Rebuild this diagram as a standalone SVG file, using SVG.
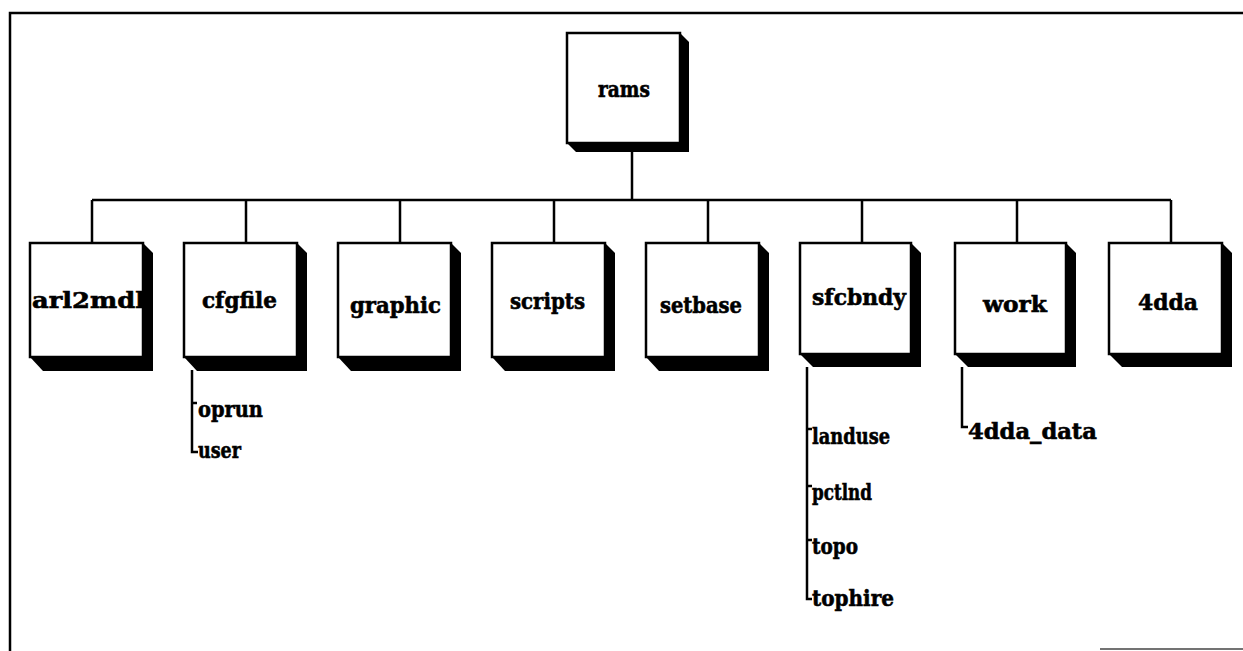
<svg xmlns="http://www.w3.org/2000/svg" width="1243" height="651" viewBox="0 0 1243 651">
<style>
.face{fill:#fff;stroke:#000;stroke-width:2.5}
.shd{fill:#000}
.lbl{font-family:"DejaVu Serif","Liberation Serif",serif;font-weight:bold;font-size:23px;fill:#000;stroke:#000;stroke-width:0.6}
.ln{stroke:#000;stroke-width:2.5;fill:none}
</style>
<rect width="1243" height="651" fill="#fff"/>
<g id="frame">
<path d="M10,651 V13 H1243" class="ln" stroke-width="3"/>
<line x1="1100" y1="649" x2="1243" y2="649" stroke="#444" stroke-width="1.5"/>
</g>
<g id="connectors">
<path class="ln" d="M632,152 V200 M92,200 H1171 M92,200 V243 M246,200 V243 M400,200 V243 M554,200 V243 M708,200 V243 M862,200 V243 M1017,200 V243 M1171,200 V243"/>
<path class="ln" d="M192,370 V452 H198 M192,403 H197"/>
<path class="ln" d="M807,367 V599 H812 M807,429 H812 M807,486 H812 M807,540 H812"/>
<path class="ln" d="M962,367 V427 H968"/>
</g>
<g id="rams">
<polygon class="shd" points="680,33 689,42 689,152 576,152 567,143"/>
<rect class="face" x="567" y="33" width="113" height="110"/>
<text class="lbl" x="598" y="97" textLength="52" lengthAdjust="spacingAndGlyphs">rams</text>
</g>
<g id="arl2mdl">
<polygon class="shd" points="143,243 153,253 153,371 43,371 30,357"/>
<rect class="face" x="30" y="243" width="113" height="114"/>
<text class="lbl" x="32" y="308" textLength="113" lengthAdjust="spacingAndGlyphs">arl2mdl</text>
</g>
<g id="cfgfile">
<polygon class="shd" points="297,243 307,253 307,371 197,371 184,357"/>
<rect class="face" x="184" y="243" width="113" height="114"/>
<text class="lbl" x="202" y="308" textLength="75" lengthAdjust="spacingAndGlyphs">cfgfile</text>
</g>
<g id="graphic">
<polygon class="shd" points="451,243 461,253 461,371 351,371 338,357"/>
<rect class="face" x="338" y="243" width="113" height="114"/>
<text class="lbl" x="350" y="313" textLength="91" lengthAdjust="spacingAndGlyphs">graphic</text>
</g>
<g id="scripts">
<polygon class="shd" points="605,243 615,253 615,371 505,371 492,357"/>
<rect class="face" x="492" y="243" width="113" height="114"/>
<text class="lbl" x="510" y="309" textLength="75" lengthAdjust="spacingAndGlyphs">scripts</text>
</g>
<g id="setbase">
<polygon class="shd" points="759,243 769,253 769,371 659,371 646,357"/>
<rect class="face" x="646" y="243" width="113" height="114"/>
<text class="lbl" x="660" y="313" textLength="82" lengthAdjust="spacingAndGlyphs">setbase</text>
</g>
<g id="sfcbndy">
<polygon class="shd" points="911,243 921,253 921,367 813,367 800,354"/>
<rect class="face" x="800" y="243" width="111" height="111"/>
<text class="lbl" x="812" y="305" textLength="94" lengthAdjust="spacingAndGlyphs">sfcbndy</text>
</g>
<g id="work">
<polygon class="shd" points="1066,243 1076,253 1076,367 968,367 955,354"/>
<rect class="face" x="955" y="243" width="111" height="111"/>
<text class="lbl" x="983" y="312" textLength="64" lengthAdjust="spacingAndGlyphs">work</text>
</g>
<g id="4dda">
<polygon class="shd" points="1222,243 1232,253 1232,367 1122,367 1109,354"/>
<rect class="face" x="1109" y="243" width="113" height="111"/>
<text class="lbl" x="1138" y="310" textLength="60" lengthAdjust="spacingAndGlyphs">4dda</text>
</g>
<g id="oprun"><text class="lbl" x="198" y="417" textLength="65" lengthAdjust="spacingAndGlyphs">oprun</text></g>
<g id="user"><text class="lbl" x="198" y="458" textLength="43" lengthAdjust="spacingAndGlyphs">user</text></g>
<g id="landuse"><text class="lbl" x="812" y="444" textLength="78" lengthAdjust="spacingAndGlyphs">landuse</text></g>
<g id="pctlnd"><text class="lbl" x="812" y="500" textLength="60" lengthAdjust="spacingAndGlyphs">pctlnd</text></g>
<g id="topo"><text class="lbl" x="812" y="554" textLength="46" lengthAdjust="spacingAndGlyphs">topo</text></g>
<g id="tophire"><text class="lbl" x="812" y="606" textLength="82" lengthAdjust="spacingAndGlyphs">tophire</text></g>
<g id="4dda_data"><text class="lbl" x="968" y="439" textLength="129" lengthAdjust="spacingAndGlyphs">4dda_data</text></g>
</svg>
